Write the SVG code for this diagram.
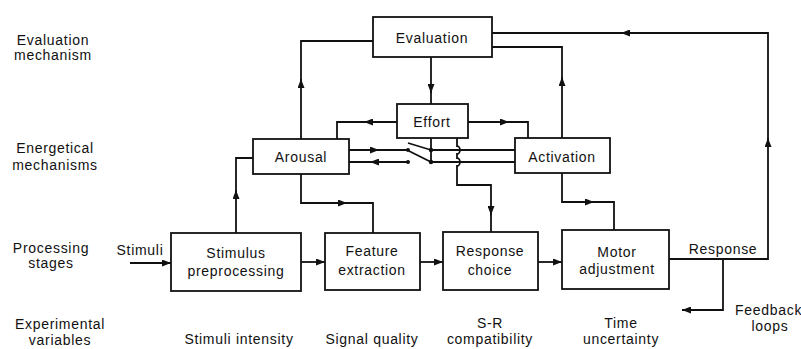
<svg xmlns="http://www.w3.org/2000/svg" width="801" height="349" viewBox="0 0 801 349">
  <style>
    text { font-family: "Liberation Sans", Arial, sans-serif; font-size: 14px; fill: #111; letter-spacing: 0.7px; }
    .c { text-anchor: middle; }
    .box { fill: #fff; stroke: #111; stroke-width: 1.8; }
    .ln { fill: none; stroke: #111; stroke-width: 1.8; }
    .ar { fill: none; stroke: #111; stroke-width: 1.8; marker-end: url(#a); }
    .dot { fill: #111; }
  </style>
  <defs>
    <marker id="a" markerUnits="userSpaceOnUse" markerWidth="9" markerHeight="7" refX="9" refY="3.5" orient="auto">
      <path d="M0,0 L9,3.5 L0,7 z" fill="#111"/>
    </marker>
  </defs>
  <rect width="801" height="349" fill="#fff"/>

  <!-- row labels -->
  <g id="row-labels">
    <text class="c" x="53" y="45">Evaluation</text>
    <text class="c" x="53" y="60">mechanism</text>
    <text class="c" x="55" y="153">Energetical</text>
    <text class="c" x="55" y="170">mechanisms</text>
    <text class="c" x="51" y="253">Processing</text>
    <text class="c" x="51" y="268">stages</text>
    <text class="c" x="60" y="329">Experimental</text>
    <text class="c" x="60" y="345">variables</text>
  </g>

  <!-- connectors -->
  <g id="connectors">
    <!-- Evaluation -> Effort -->
    <path class="ln" d="M431,57 V104"/>
    <path class="ar" d="M431,84 V93"/>
    <!-- Arousal -> Evaluation -->
    <path class="ln" d="M301,139 V41 H373"/>
    <path class="ar" d="M301,88 V79"/>
    <!-- Activation -> Evaluation -->
    <path class="ln" d="M562,138 V47 H492"/>
    <path class="ar" d="M562,86 V77"/>
    <!-- Response -> Evaluation (outer loop) -->
    <path class="ln" d="M669,259 H768 V33 H492"/>
    <path class="ar" d="M768,147 V138"/>
    <path class="ar" d="M630,33 H621"/>
    <!-- Effort -> Arousal / Activation -->
    <path class="ln" d="M397,122 H337 V139"/>
    <path class="ar" d="M373,122 H364"/>
    <path class="ln" d="M468,122 H528 V138"/>
    <path class="ar" d="M500,122 H509"/>
    <!-- Arousal <-> switch -->
    <path class="ln" d="M349,150 H408"/>
    <path class="ar" d="M370,150 H379"/>
    <path class="ln" d="M349,162 H408"/>
    <path class="ar" d="M379,162 H370"/>
    <circle class="dot" cx="408" cy="150" r="2"/>
    <circle class="dot" cx="408" cy="162" r="2"/>
    <!-- switch levers -->
    <path class="ln" d="M408,143 L431,150"/>
    <path class="ln" d="M409,151 L431,162"/>
    <!-- Effort -> switch -> Activation -->
    <path class="ln" d="M431,138 V162"/>
    <circle class="dot" cx="431" cy="150" r="2.2"/>
    <circle class="dot" cx="431" cy="162" r="2.2"/>
    <path class="ln" d="M431,150 H515 M431,162 H515"/>
    <!-- Effort -> Response choice (crossing with hops) -->
    <path class="ln" d="M457,138 V146 a3,4 0 0 1 0,8 V158 a3,4 0 0 1 0,8 V185 H491 V232"/>
    <path class="ar" d="M491,206 V215"/>
    <!-- Arousal -> Feature extraction -->
    <path class="ln" d="M301,174 V203 H373 V233"/>
    <path class="ar" d="M338,203 H347"/>
    <!-- Activation -> Motor adjustment -->
    <path class="ln" d="M562,173 V202 H614 V230"/>
    <path class="ar" d="M585,202 H594"/>
    <!-- Stimulus preprocessing -> Arousal -->
    <path class="ln" d="M236,233 V158 H253"/>
    <path class="ar" d="M236,199 V190"/>
    <!-- stage chain -->
    <path class="ar" d="M130,263 H171"/>
    <path class="ar" d="M301,262 H325"/>
    <path class="ar" d="M420,262 H443"/>
    <path class="ar" d="M538,262 H562"/>
    <!-- feedback branch -->
    <path class="ln" d="M723,259 V310 H682"/>
    <path class="ar" d="M692,310 H682"/>
  </g>

  <!-- nodes -->
  <g id="evaluation">
    <rect class="box" x="373" y="17" width="119" height="40"/>
    <text class="c" x="432" y="43">Evaluation</text>
  </g>
  <g id="effort">
    <rect class="box" x="397" y="104" width="71" height="34"/>
    <text class="c" x="432" y="127">Effort</text>
  </g>
  <g id="arousal">
    <rect class="box" x="253" y="139" width="96" height="35"/>
    <text class="c" x="301" y="162">Arousal</text>
  </g>
  <g id="activation">
    <rect class="box" x="515" y="138" width="95" height="35"/>
    <text class="c" x="562" y="162">Activation</text>
  </g>
  <g id="stimulus-preprocessing">
    <rect class="box" x="171" y="233" width="130" height="58"/>
    <text class="c" x="236" y="258">Stimulus</text>
    <text class="c" x="236" y="276">preprocessing</text>
  </g>
  <g id="feature-extraction">
    <rect class="box" x="325" y="233" width="95" height="57"/>
    <text class="c" x="372" y="256">Feature</text>
    <text class="c" x="372" y="275">extraction</text>
  </g>
  <g id="response-choice">
    <rect class="box" x="443" y="232" width="95" height="58"/>
    <text class="c" x="490" y="256">Response</text>
    <text class="c" x="490" y="275">choice</text>
  </g>
  <g id="motor-adjustment">
    <rect class="box" x="562" y="230" width="107" height="59"/>
    <text class="c" x="617" y="257">Motor</text>
    <text class="c" x="617" y="274">adjustment</text>
  </g>

  <!-- free labels -->
  <g id="labels">
    <text class="c" x="140" y="255">Stimuli</text>
    <text class="c" x="723" y="254">Response</text>
    <text x="735" y="315">Feedback</text>
    <text class="c" x="770" y="331">loops</text>
    <text class="c" x="239" y="344">Stimuli intensity</text>
    <text class="c" x="372" y="344">Signal quality</text>
    <text class="c" x="490" y="328">S-R</text>
    <text class="c" x="490" y="344">compatibility</text>
    <text class="c" x="621" y="328">Time</text>
    <text class="c" x="621" y="344">uncertainty</text>
  </g>
</svg>
